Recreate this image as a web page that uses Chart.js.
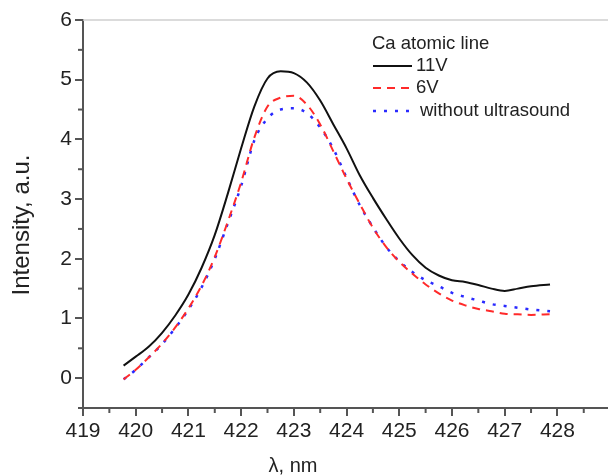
<!DOCTYPE html>
<html>
<head>
<meta charset="utf-8">
<script src="https://cdn.jsdelivr.net/npm/chart.js@4/dist/chart.umd.min.js"></script>
<style>
  html, body { margin: 0; padding: 0; background: #fff; }
  canvas { display: block; }
</style>
</head>
<body>
<canvas id="chart" width="608" height="475"></canvas>
<script>
// wavelength, nm
const wavelength = [419.77, 420.0, 420.25, 420.5, 420.75, 421.0, 421.25, 421.5, 421.75, 422.0, 422.25,
    422.5, 422.75, 423.0, 423.25, 423.5, 423.75, 424.0, 424.25, 424.5, 424.75, 425.0, 425.25,
    425.5, 425.75, 426.0, 426.25, 426.5, 426.75, 427.0, 427.25, 427.5, 427.86];

const v11 = [0.21, 0.36, 0.53, 0.76, 1.05, 1.40, 1.85, 2.40, 3.10, 3.85, 4.55,
    5.02, 5.14, 5.11, 4.95, 4.65, 4.25, 3.85, 3.40, 3.02, 2.67, 2.34, 2.06,
    1.85, 1.72, 1.64, 1.61, 1.56, 1.50, 1.46, 1.50, 1.54, 1.57];

const v6 = [-0.02, 0.14, 0.35, 0.58, 0.85, 1.17, 1.55, 2.03, 2.63, 3.28, 4.03,
    4.55, 4.70, 4.73, 4.58, 4.25, 3.80, 3.34, 2.92, 2.52, 2.20, 1.95, 1.75,
    1.57, 1.42, 1.30, 1.22, 1.16, 1.12, 1.08, 1.07, 1.06, 1.07];

const vNone = [-0.02, 0.14, 0.35, 0.57, 0.84, 1.15, 1.52, 2.00, 2.60, 3.22, 3.98,
    4.35, 4.50, 4.52, 4.44, 4.20, 3.84, 3.36, 2.90, 2.53, 2.20, 1.96, 1.78,
    1.64, 1.54, 1.43, 1.36, 1.30, 1.24, 1.21, 1.18, 1.15, 1.12];

const seriesNames = ['11V', '6V', 'without ultrasound'];
const legendTitle = 'Ca atomic line';
const xTitle = 'λ, nm';
const yTitle = 'Intensity, a.u.';

const FONT = '"Liberation Sans", Arial, sans-serif';
const axisColor = '#555';

function pts(ys) {
    return wavelength.map((x, i) => ({x: x, y: ys[i]}));
}

let styles = [
    {color: '#111111', dash: [], width: 2},
    {color: '#ff2a2a', dash: [8, 6], width: 2},
    {color: '#2a2aff', dash: [3, 8], width: 2.5},
];

const extras = {
    id: 'extras',
    afterDraw(chart) {
        const c = chart.ctx;
        const xs = chart.scales.x, ys = chart.scales.y;
        const area = chart.chartArea;
        c.save();
        // top frame line
        c.strokeStyle = '#cfcfcf';
        c.lineWidth = 1.5;
        c.beginPath();
        c.moveTo(area.left, area.top);
        c.lineTo(area.right, area.top);
        c.stroke();
        // minor ticks
        c.strokeStyle = axisColor;
        c.lineWidth = 2;
        for (let v = 419.5; v < 429; v += 1) {
            const px = xs.getPixelForValue(v);
            c.beginPath();
            c.moveTo(px, area.bottom);
            c.lineTo(px, area.bottom + 5);
            c.stroke();
        }
        for (let v = -0.5; v < 6; v += 1) {
            const py = ys.getPixelForValue(v);
            c.beginPath();
            c.moveTo(area.left, py);
            c.lineTo(area.left - 5, py);
            c.stroke();
        }
        // axis titles
        c.fillStyle = '#222';
        c.font = '20px ' + FONT;
        c.textAlign = 'center';
        c.textBaseline = 'alphabetic';
        c.fillText(xTitle, 293, 472);
        c.save();
        c.translate(29, 225);
        c.rotate(-Math.PI / 2);
        c.font = '24px ' + FONT;
        c.fillText(yTitle, 0, 0);
        c.restore();
        // legend
        c.textAlign = 'left';
        c.textBaseline = 'middle';
        c.font = '18.5px ' + FONT;
        c.fillText(legendTitle, 372, 44);
        const rowsY = [66, 88, 111];
        seriesNames.forEach((name, i) => {
            const s = styles[i];
            c.strokeStyle = s.color;
            c.lineWidth = s.width;
            c.setLineDash(s.dash);
            c.beginPath();
            c.moveTo(373, rowsY[i]);
            c.lineTo(412, rowsY[i]);
            c.stroke();
            c.setLineDash([]);
            c.fillStyle = '#222';
            c.fillText(name, i === 2 ? 420 : 416, rowsY[i]);
        });
        c.restore();
    }
};

const ctx = document.getElementById('chart');
let mainChart = new Chart(ctx, {
    type: 'line',
    data: {
        datasets: [v11, v6, vNone].map((d, i) => ({
            label: seriesNames[i],
            data: pts(d),
            borderColor: styles[i].color,
            borderDash: styles[i].dash,
            borderWidth: styles[i].width,
            backgroundColor: 'transparent',
            pointRadius: 0,
            cubicInterpolationMode: 'monotone',
            fill: false,
        })),
    },
    options: {
        responsive: false,
        animation: false,
        layout: {padding: {top: 20, right: 0, left: 0, bottom: 0}},
        plugins: {
            legend: {display: false},
            tooltip: {enabled: false},
        },
        scales: {
            x: {
                type: 'linear',
                min: 419,
                max: 428.96,
                afterFit: (s) => { s.height = 67; },
                afterBuildTicks: (s) => {
                    s.ticks = [419, 420, 421, 422, 423, 424, 425, 426, 427, 428].map(v => ({value: v}));
                },
                grid: {drawOnChartArea: false, tickLength: 8, color: axisColor, lineWidth: 2},
                border: {display: true, color: axisColor, width: 2},
                ticks: {
                    padding: 3,
                    color: '#222',
                    font: {family: FONT, size: 21},
                    maxRotation: 0,
                    autoSkip: false,
                    callback: (v) => String(v),
                },
            },
            y: {
                min: -0.5,
                max: 6,
                afterFit: (s) => { s.width = 83; },
                grid: {
                    drawOnChartArea: false,
                    tickLength: 8,
                    lineWidth: 2,
                    color: (c) => (c.tick && Number.isInteger(c.tick.value)) ? axisColor : 'transparent',
                },
                border: {display: true, color: axisColor, width: 2},
                ticks: {
                    stepSize: 1,
                    padding: 3,
                    color: '#222',
                    font: {family: FONT, size: 21},
                    callback: (v) => Number.isInteger(v) ? String(v) : '',
                },
            },
        },
    },
    plugins: [extras],
});
</script>
</body>
</html>
